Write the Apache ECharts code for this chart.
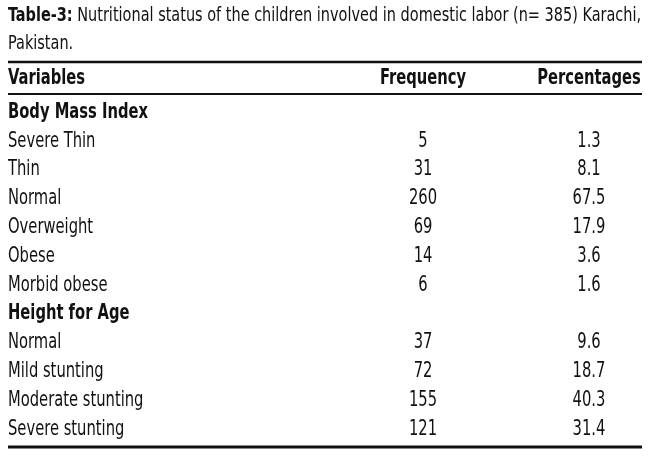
<!DOCTYPE html>
<html>
<head>
<meta charset="utf-8">
<script src="https://cdn.jsdelivr.net/npm/echarts@6/dist/echarts.min.js"></script>
<style>
  html, body { margin: 0; padding: 0; background: #fff; }
  #chart { width: 650px; height: 458px; }
</style>
</head>
<body>
<div id="chart"></div>
<script>
// table contents
var titleBold = 'Table-3:';
var titleLine1 = ' Nutritional status of the children involved in domestic labor (n= 385) Karachi,';
var titleLine2 = 'Pakistan.';
var headers = ['Variables', 'Frequency', 'Percentages'];
var sections = ['Body Mass Index', 'Height for Age'];
var bmiLabels = ['Severe Thin', 'Thin', 'Normal', 'Overweight', 'Obese', 'Morbid obese'];
var bmiFreq = [5, 31, 260, 69, 14, 6];
var bmiPct = [1.3, 8.1, 67.5, 17.9, 3.6, 1.6];
var hfaLabels = ['Normal', 'Mild stunting', 'Moderate stunting', 'Severe stunting'];
var hfaFreq = [37, 72, 155, 121];
var hfaPct = [9.6, 18.7, 40.3, 31.4];

// rows in display order
var rows = [];
rows.push({ label: sections[0], section: true });
bmiLabels.forEach(function(l, i) {
    rows.push({ label: l, freq: bmiFreq[i], pct: bmiPct[i] });
});
rows.push({ label: sections[1], section: true });
hfaLabels.forEach(function(l, i) {
    rows.push({ label: l, freq: hfaFreq[i], pct: hfaPct[i] });
});

// no narrow font installed, so squeeze the condensed one
var FONT = '"DejaVu Sans Condensed", sans-serif';
var SQ = 0.78;
var INK = '#111';
var colX = [8, 423, 589];   // left edge of first column, centres of the others

function cell(x, y, text, bold, align) {
    return {
        type: 'text', x: x, y: y, scaleX: SQ,
        style: {
            text: text, font: (bold ? 'bold ' : '') + '21px ' + FONT,
            fill: INK, align: align, verticalAlign: 'middle'
        }
    };
}

var chart = echarts.init(document.getElementById('chart'));

chart.setOption({
    animation: false,
    backgroundColor: '#fff',
    grid: { left: 0, right: 0, top: 97, bottom: 15.5 },
    xAxis: { type: 'value', min: 0, max: 650, show: false },
    yAxis: {
        type: 'category',
        inverse: true,
        show: false,
        data: rows.map(function(r, i) { return String(i); })
    },
    graphic: [
        {
            type: 'text', x: 8, y: 16, scaleX: 0.805,
            style: {
                text: '{b|' + titleBold + '}' + titleLine1,
                font: '20px ' + FONT, fill: INK, verticalAlign: 'middle',
                rich: { b: { fontWeight: 'bold', fontSize: 20, fontFamily: FONT, fill: INK } }
            }
        },
        {
            type: 'text', x: 8, y: 44, scaleX: 0.805,
            style: { text: titleLine2, font: '20px ' + FONT, fill: INK, verticalAlign: 'middle' }
        },
        { type: 'line', shape: { x1: 8, y1: 62, x2: 642, y2: 62 }, style: { stroke: INK, lineWidth: 2.4 } },
        { type: 'line', shape: { x1: 8, y1: 94, x2: 642, y2: 94 }, style: { stroke: INK, lineWidth: 2.2 } },
        { type: 'line', shape: { x1: 8, y1: 447, x2: 642, y2: 447 }, style: { stroke: INK, lineWidth: 2.8 } },
        cell(colX[0], 79, headers[0], true, 'left'),
        cell(colX[1], 79, headers[1], true, 'center'),
        cell(colX[2], 79, headers[2], true, 'center')
    ],
    series: [{
        type: 'custom',
        coordinateSystem: 'cartesian2d',
        data: rows.map(function(r, i) { return [0, i]; }),
        encode: { x: 0, y: 1 },
        renderItem: function(params, api) {
            var r = rows[params.dataIndex];
            var idx = api.value(1);
            var y = api.coord([0, idx])[1] + 1;
            var children = [cell(api.coord([colX[0], idx])[0], y, r.label, r.section, 'left')];
            if (!r.section) {
                children.push(cell(api.coord([colX[1], idx])[0], y, String(r.freq), false, 'center'));
                children.push(cell(api.coord([colX[2], idx])[0], y, r.pct.toFixed(1), false, 'center'));
            }
            return { type: 'group', children: children };
        }
    }]
});
</script>
</body>
</html>
